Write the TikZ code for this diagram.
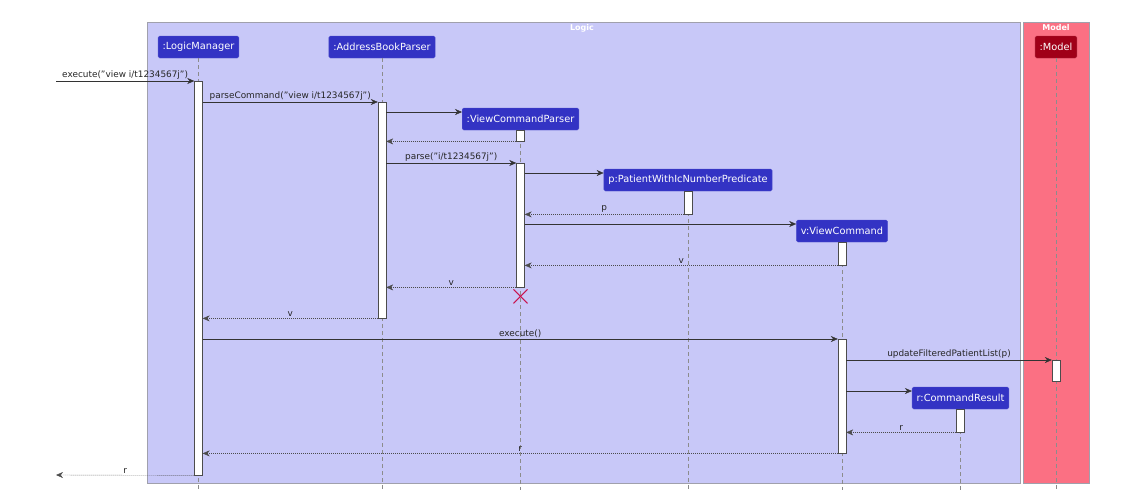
\documentclass[tikz,border=0pt]{standalone}
\usepackage{fontspec}
\setmainfont{DejaVu Sans}
\usetikzlibrary{arrows.meta, positioning, calc}
\definecolor{logicbg}{RGB}{200,200,248}
\definecolor{modelbg}{RGB}{251,112,131}
\definecolor{actorblue}{RGB}{51,51,196}
\definecolor{actorred}{RGB}{160,0,24}
\definecolor{framegray}{RGB}{160,160,172}
\definecolor{killred}{RGB}{200,20,80}

\begin{document}
\begin{tikzpicture}[x=1pt, y=-1pt,
  actor/.style={rounded corners=1.5pt, fill=actorblue, draw=actorblue!85!white, text=white,
    font=\fontsize{9.8}{11}\selectfont, minimum height=22, inner xsep=4.5pt},
  bar/.style={draw=black!70, fill=white, minimum width=8, anchor=north, inner sep=0},
  life/.style={black!45, dash pattern=on 4pt off 3pt},
  call/.style={-{Stealth[length=7pt,width=6pt]}, black!80},
  ret/.style={-{Stealth[length=7pt,width=6pt]}, black!70, dash pattern=on 1pt off 1pt},
  lbl/.style={font=\fontsize{8.9}{10}\selectfont, above, inner sep=1.5pt, text=black!85}]
  \useasboundingbox (0,0) rectangle (1121,493);

  % frames
  \draw[framegray, fill=logicbg] (147,22) rectangle (1020,483);
  \draw[framegray, fill=modelbg] (1023,22) rectangle (1089,483);
  \node[text=white, font=\bfseries\fontsize{8}{9}\selectfont] (logicT) at (582,28) {Logic};
  \node[text=white, font=\bfseries\fontsize{8}{9}\selectfont] (modelT) at (1056,28) {Model};

  % participants
  \node[actor] (lm) at (198.5,47) {:LogicManager};
  \node[actor] (abp) at (382,47) {:AddressBookParser};
  \node[actor] (vcp) at (520.5,119) {:ViewCommandParser};
  \node[actor] (pred) at (688,180) {p:PatientWithIcNumberPredicate};
  \node[actor] (vc) at (842,231) {v:ViewCommand};
  \node[actor] (cr) at (960.5,398) {r:CommandResult};
  \node[actor, fill=actorred, draw=actorred!85!white] (mdl) at (1056,47) {:Model};

  % lifelines
  \draw[life] (lm.south) -- (lm.south |- 0,490);
  \draw[life] (abp.south) -- (abp.south |- 0,490);
  \draw[life] (vcp.south) -- (vcp.south |- 0,490);
  \draw[life] (pred.south) -- (pred.south |- 0,490);
  \draw[life] (vc.south) -- (vc.south |- 0,490);
  \draw[life] (cr.south) -- (cr.south |- 0,490);
  \draw[life] (mdl.south) -- (mdl.south |- 0,490);

  % activation bars
  \node[bar, minimum height=394] (lmA) at (198.5,81) {};
  \node[bar, minimum height=216] (abpA) at (382,102) {};
  \node[bar, minimum height=11] (vcpA1) at (520.5,130) {};
  \node[bar, minimum height=124] (vcpA2) at (520.5,163) {};
  \node[bar, minimum height=23] (predA) at (688,191) {};
  \node[bar, minimum height=23] (vcA1) at (842,242) {};
  \node[bar, minimum height=114] (vcA2) at (842,339) {};
  \node[bar, minimum height=21] (mdlA) at (1056,360) {};
  \node[bar, minimum height=23] (crA) at (960.5,409) {};

  \coordinate (inStart) at (56,81);
  \coordinate (outEnd) at (56,475);

  % messages
  \draw[call] (inStart) -- node[lbl]{execute("view i/t1234567j")} (lmA.north west);
  \draw[call] (lmA.east |- abpA.north) -- node[lbl]{parseCommand("view i/t1234567j")} (abpA.north west);
  \draw[call] (abpA.east |- 0,112) -- (vcp.west |- 0,112);
  \draw[ret] (vcpA1.south west) -- (abpA.east |- vcpA1.south);
  \draw[call] (abpA.east |- vcpA2.north) -- node[lbl]{parse("i/t1234567j")} (vcpA2.north west);
  \draw[call] (vcpA2.east |- 0,173) -- (pred.west |- 0,173);
  \draw[ret] (predA.south west) -- node[lbl]{p} (vcpA2.east |- predA.south);
  \draw[call] (vcpA2.east |- 0,224) -- (vc.west |- 0,224);
  \draw[ret] (vcA1.south west) -- node[lbl]{v} (vcpA2.east |- vcA1.south);
  \draw[ret] (vcpA2.south west) -- node[lbl]{v} (abpA.east |- vcpA2.south);
  \draw[ret] (abpA.south west) -- node[lbl]{v} (lmA.east |- abpA.south);
  \draw[call] (lmA.east |- vcA2.north) -- node[lbl]{execute()} (vcA2.north west);
  \draw[call] (vcA2.east |- mdlA.north) -- node[lbl]{updateFilteredPatientList(p)} (mdlA.north west);
  \draw[call] (vcA2.east |- 0,391) -- (cr.west |- 0,391);
  \draw[ret] (crA.south west) -- node[lbl]{r} (vcA2.east |- crA.south);
  \draw[ret] (vcA2.south west) -- node[lbl]{r} (lmA.east |- vcA2.south);
  \draw[ret] (lmA.south west) -- node[lbl]{r} (outEnd);

  % destroy mark
  \draw[killred, line width=1.1pt] ($(vcpA2.south)+(-7,2)$) -- ($(vcpA2.south)+(7,16)$)
    ($(vcpA2.south)+(-7,16)$) -- ($(vcpA2.south)+(7,2)$);
\end{tikzpicture}
\end{document}
